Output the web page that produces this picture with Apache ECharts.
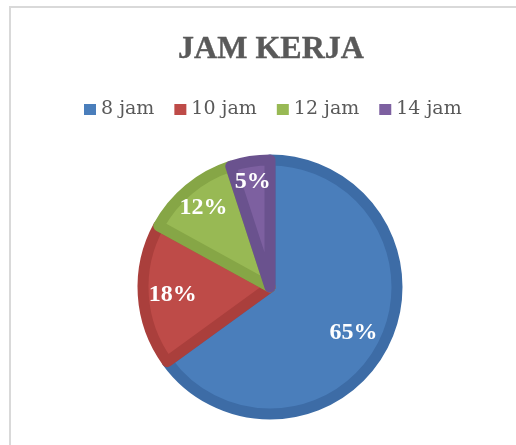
<!DOCTYPE html>
<html>
<head>
<meta charset="utf-8">
<script src="https://cdn.jsdelivr.net/npm/echarts@6/dist/echarts.min.js"></script>
<style>
  html, body { margin: 0; padding: 0; width: 516px; height: 445px; overflow: hidden; background: #fff; }
  #frame { position: absolute; left: 9px; top: 6px; width: 505px; height: 437px; overflow: hidden;
           border-top: 2px solid #d9d9d9; border-left: 2px solid #d9d9d9; }
  #chart { width: 520px; height: 450px; }
</style>
</head>
<body>
<div id="frame"><div id="chart"></div></div>
<script>
const titleText = 'JAM KERJA';
const categories = ['8 jam', '10 jam', '12 jam', '14 jam'];
const values = [65, 18, 12, 5];
const fillColors = ['#4a7ebb', '#be4b48', '#98b954', '#7d60a0'];
const edgeColors = ['#3d6ca6', '#aa3f3c', '#86a646', '#6a528e'];
// small label nudges (styling only, in px) to mimic the "best fit" placement
const labelNudges = [[-15, -4], [13, 1], [4, 6], [0, 4]];

const chart = echarts.init(document.getElementById('chart'), null, { renderer: 'canvas' });

const mainData = categories.map((name, i) => ({
  name: name,
  value: values[i],
  itemStyle: { color: fillColors[i], borderColor: edgeColors[i] }
}));
const labelData = categories.map((name, i) => ({
  name: name,
  value: values[i],
  label: { offset: labelNudges[i] }
}));

chart.setOption({
  animation: false,
  backgroundColor: '#ffffff',
  title: {
    text: titleText,
    left: 'center',
    top: 21,
    textStyle: {
      fontFamily: 'Liberation Serif', fontWeight: 'bold', fontSize: 32, color: '#595959',
      textBorderColor: '#595959', textBorderWidth: 0.4
    }
  },
  legend: {
    data: categories,
    top: 87,
    left: 68,
    itemWidth: 12,
    itemHeight: 11,
    itemGap: 20,
    icon: 'rect',
    itemStyle: { borderWidth: 0 },
    textStyle: { fontFamily: 'DejaVu Serif', fontSize: 19, color: '#595959' }
  },
  series: [
    {
      type: 'pie',
      center: [259, 279],
      radius: [0, 127],
      startAngle: 90,
      clockwise: true,
      silent: true,
      data: mainData,
      itemStyle: { borderWidth: 11, borderJoin: 'round' },
      label: { show: false },
      labelLine: { show: false }
    },
    {
      type: 'pie',
      center: [259, 279],
      radius: [82, 133],
      startAngle: 90,
      clockwise: true,
      silent: true,
      data: labelData,
      itemStyle: { color: 'rgba(0,0,0,0)' },
      label: {
        show: true,
        position: 'inside',
        formatter: '{d}%',
        color: '#ffffff',
        fontFamily: 'Liberation Serif',
        fontWeight: 'bold',
        fontSize: 24
      },
      labelLine: { show: false }
    }
  ]
});
</script>
</body>
</html>
